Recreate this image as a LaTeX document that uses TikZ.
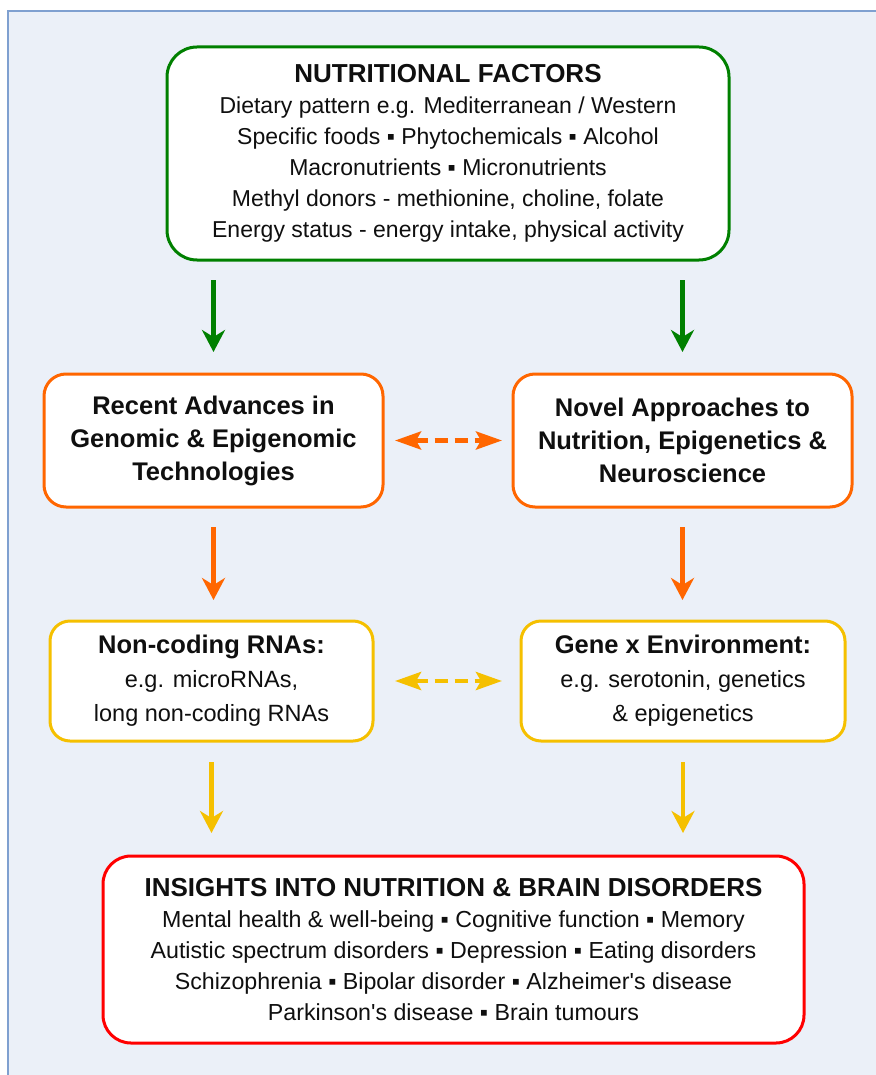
\documentclass[tikz,border=0pt]{standalone}
\usepackage{fontspec}
\setmainfont{Liberation Sans}
\usetikzlibrary{arrows.meta}
\definecolor{bgc}{RGB}{235,240,248}
\definecolor{bdc}{RGB}{127,160,208}
\definecolor{cgreen}{RGB}{0,128,0}
\definecolor{corange}{RGB}{255,102,0}
\definecolor{cyellow}{RGB}{245,192,0}
\definecolor{cred}{RGB}{255,0,0}
\definecolor{ctext}{RGB}{15,15,15}
\begin{document}
\begin{tikzpicture}[x=1pt,y=-1pt,
  box/.style={draw, fill=white, line width=3pt, inner sep=0pt, outer sep=0pt, align=center, text=ctext},
  gbox/.style={box, draw=cgreen, rounded corners=30pt, minimum width=562pt, minimum height=213pt, font=\fontsize{23}{31}\selectfont},
  obox/.style={box, draw=corange, rounded corners=22pt, minimum width=339pt, minimum height=133pt, font=\bfseries\fontsize{25.5}{33}\selectfont},
  ybox/.style={box, draw=cyellow, rounded corners=20pt, minimum width=323pt, minimum height=120pt, font=\fontsize{23.5}{34}\selectfont},
  rbox/.style={box, draw=cred, rounded corners=28pt, minimum width=701pt, minimum height=187pt, font=\fontsize{23.2}{31}\selectfont},
  darr/.style={line width=4.5pt, -{Stealth[length=22pt,width=23pt,inset=7pt]}, shorten <=20pt, shorten >=22pt},
  dasharr/.style={line width=4.5pt, dash pattern=on 13pt off 7pt, {Stealth[length=26pt,width=18pt,inset=5pt]}-{Stealth[length=26pt,width=18pt,inset=5pt]}}
]
\useasboundingbox (0,0) rectangle (875,1075);
\filldraw[fill=bgc, draw=bdc, line width=1.5pt] (8,11) rectangle (900,1100);

\node[gbox] (top) at (448,153.5) {{\bfseries\fontsize{26}{31}\selectfont NUTRITIONAL FACTORS}\\
Dietary pattern e.g. Mediterranean / Western\\
Specific foods ▪ Phytochemicals ▪ Alcohol\\
Macronutrients ▪ Micronutrients\\
Methyl donors - methionine, choline, folate\\
Energy status - energy intake, physical activity};

\node[obox] (ol) at (213.5,440.5) {Recent Advances in\\Genomic \& Epigenomic\\Technologies};
\node[obox] (or) at (682.5,440.5) {Novel Approaches to\\Nutrition, Epigenetics \&\\Neuroscience};

\node[ybox] (yl) at (211.5,681) {{\bfseries\fontsize{25.5}{34}\selectfont Non-coding RNAs:}\\e.g. microRNAs,\\long non-coding RNAs};
\node[ybox, minimum width=324pt] (yr) at (683,681) {{\bfseries\fontsize{25.5}{34}\selectfont Gene x Environment:}\\e.g. serotonin, genetics\\\& epigenetics};

\node[rbox] (red) at (453.5,949.5) {{\bfseries\fontsize{26}{31}\selectfont INSIGHTS INTO NUTRITION \& BRAIN DISORDERS}\\
Mental health \& well-being ▪ Cognitive function ▪ Memory\\
Autistic spectrum disorders ▪ Depression ▪ Eating disorders\\
Schizophrenia ▪ Bipolar disorder ▪ Alzheimer\textquotesingle s disease\\
Parkinson\textquotesingle s disease ▪ Brain tumours};

\draw[darr, cgreen] (ol.north |- top.south) -- (ol.north);
\draw[darr, cgreen] (or.north |- top.south) -- (or.north);
\draw[darr, corange, shorten >=21pt] (ol.south) -- (ol.south |- yl.north);
\draw[darr, corange, shorten >=21pt] (or.south) -- (or.south |- yr.north);
\draw[darr, cyellow, shorten <=21pt, shorten >=23pt] (yl.south) -- (yl.south |- red.north);
\draw[darr, cyellow, shorten <=21pt, shorten >=23pt] (yr.south) -- (yr.south |- red.north);

\draw[dasharr, corange, shorten <=12pt, shorten >=11pt] (ol.east) -- (or.west);
\draw[dasharr, cyellow, shorten <=22pt, shorten >=19pt] (yl.east) -- (yr.west);
\end{tikzpicture}
\end{document}
